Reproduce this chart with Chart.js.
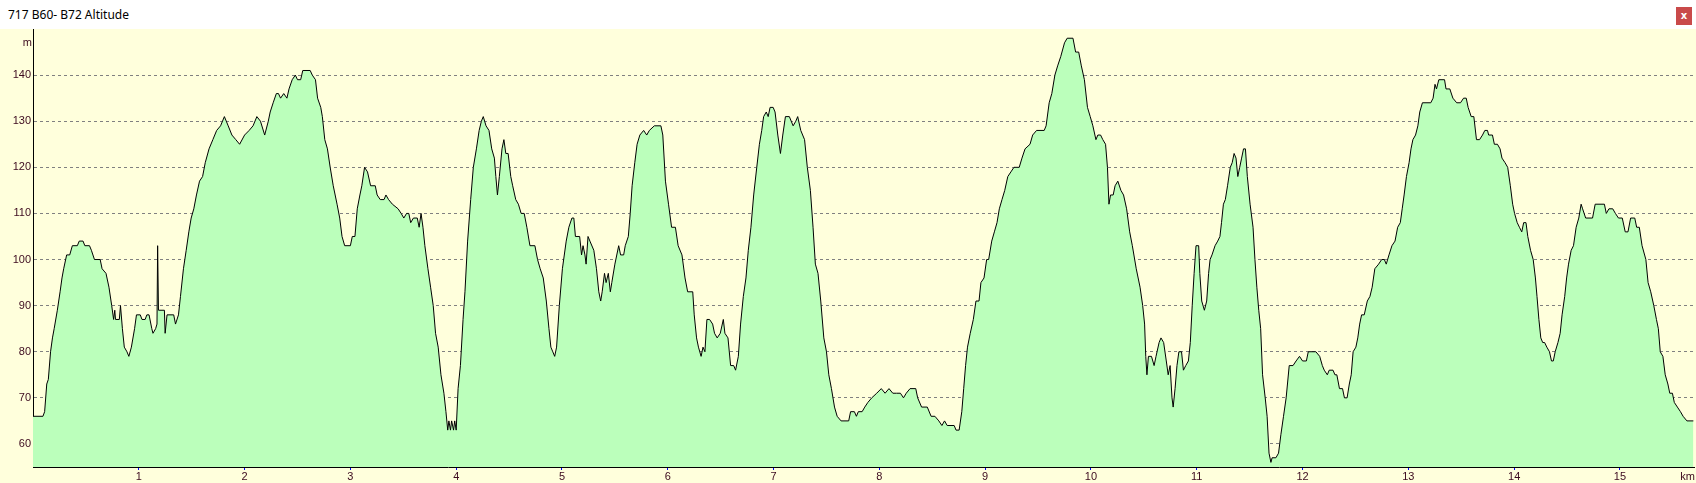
<!DOCTYPE html>
<html>
<head>
<meta charset="utf-8">
<title>717 B60- B72 Altitude</title>
<script src="https://cdn.jsdelivr.net/npm/chart.js@4/dist/chart.umd.min.js"></script>
<style>
  body { margin: 0; background: #ffffdc; overflow: hidden; }
  #bar { height: 29px; background: #fff; position: relative; font: 12px "Noto Sans", "Open Sans", sans-serif; }
  #bar span { position: absolute; left: 8px; top: 6px; color: #000; }
  #close { position: absolute; left: 1676px; top: 7px; width: 16px; height: 18px; background: #c94a4a;
           color: #fff; font: bold 10px "DejaVu Sans", sans-serif; text-align: center; line-height: 17px; }
  #wrap { width: 1696px; height: 454px; position: relative; }
</style>
</head>
<body>
<div id="bar"><span>717 B60- B72 Altitude</span><div id="close">x</div></div>
<div id="wrap"><canvas id="myChart"></canvas></div>
<script>

// Distance along the route (km) and altitude (m)

var distKm = [
  0, 0.094, 0.11, 0.13, 0.145, 0.166, 0.184, 0.2, 0.23, 0.256, 0.274, 0.29, 0.318, 0.347, 0.372, 0.419, 0.437, 0.473, 0.49, 0.534,
  0.552, 0.581, 0.635, 0.653, 0.69, 0.718, 0.744, 0.762, 0.773, 0.78, 0.816, 0.827, 0.845, 0.863, 0.888, 0.906, 0.93, 0.96, 0.978, 1.014,
  1.03, 1.06, 1.076, 1.097, 1.123, 1.134, 1.159, 1.172, 1.178, 1.186, 1.242, 1.249, 1.267, 1.33, 1.347, 1.375, 1.394, 1.422, 1.448, 1.473,
  1.495, 1.52, 1.545, 1.574, 1.603, 1.628, 1.664, 1.7, 1.736, 1.773, 1.809, 1.845, 1.88, 1.917, 1.953, 2.0, 2.043, 2.08, 2.116, 2.15,
  2.19, 2.224, 2.242, 2.27, 2.3, 2.32, 2.34, 2.37, 2.4, 2.42, 2.45, 2.48, 2.5, 2.53, 2.55, 2.62, 2.64, 2.67, 2.69, 2.72,
  2.735, 2.758, 2.783, 2.809, 2.838, 2.874, 2.899, 2.921, 2.946, 3.0, 3.018, 3.043, 3.065, 3.09, 3.108, 3.134, 3.162, 3.191, 3.235, 3.253,
  3.282, 3.318, 3.336, 3.361, 3.397, 3.451, 3.48, 3.505, 3.531, 3.552, 3.57, 3.596, 3.632, 3.65, 3.668, 3.686, 3.704, 3.733, 3.758, 3.783,
  3.805, 3.83, 3.856, 3.884, 3.903, 3.92, 3.931, 3.946, 3.957, 3.975, 3.986, 4.0, 4.018, 4.04, 4.065, 4.083, 4.108, 4.137, 4.162, 4.191,
  4.217, 4.238, 4.256, 4.282, 4.31, 4.336, 4.361, 4.375, 4.39, 4.408, 4.433, 4.451, 4.469, 4.491, 4.516, 4.534, 4.563, 4.588, 4.614, 4.643,
  4.668, 4.697, 4.744, 4.769, 4.794, 4.823, 4.852, 4.877, 4.895, 4.913, 4.931, 4.949, 4.975, 5.004, 5.04, 5.065, 5.094, 5.112, 5.127, 5.167,
  5.185, 5.199, 5.217, 5.228, 5.246, 5.264, 5.301, 5.326, 5.348, 5.366, 5.38, 5.402, 5.417, 5.438, 5.457, 5.471, 5.5, 5.536, 5.554, 5.583,
  5.598, 5.627, 5.645, 5.663, 5.688, 5.71, 5.736, 5.772, 5.801, 5.826, 5.873, 5.935, 5.953, 5.978, 6.007, 6.036, 6.072, 6.098, 6.134, 6.163,
  6.188, 6.236, 6.25, 6.272, 6.29, 6.315, 6.333, 6.351, 6.37, 6.395, 6.424, 6.442, 6.467, 6.496, 6.525, 6.54, 6.569, 6.594, 6.623, 6.641,
  6.667, 6.688, 6.714, 6.739, 6.761, 6.786, 6.812, 6.841, 6.866, 6.888, 6.906, 6.931, 6.949, 6.967, 6.996, 7.014, 7.04, 7.065, 7.087, 7.112,
  7.149, 7.185, 7.21, 7.228, 7.257, 7.293, 7.319, 7.348, 7.373, 7.395, 7.42, 7.446, 7.475, 7.5, 7.522, 7.547, 7.576, 7.601, 7.638, 7.71,
  7.728, 7.764, 7.783, 7.801, 7.837, 7.862, 7.891, 7.928, 7.975, 8.018, 8.054, 8.091, 8.127, 8.163, 8.199, 8.228, 8.254, 8.29, 8.344, 8.362,
  8.399, 8.453, 8.489, 8.525, 8.562, 8.591, 8.616, 8.641, 8.707, 8.725, 8.754, 8.779, 8.797, 8.815, 8.833, 8.859, 8.888, 8.913, 8.942, 8.96,
  8.989, 9.014, 9.033, 9.062, 9.087, 9.112, 9.134, 9.159, 9.185, 9.214, 9.243, 9.272, 9.322, 9.348, 9.377, 9.424, 9.449, 9.486, 9.558, 9.576,
  9.605, 9.63, 9.659, 9.685, 9.714, 9.75, 9.775, 9.83, 9.855, 9.884, 9.909, 9.938, 9.967, 9.993, 10.018, 10.047, 10.065, 10.091, 10.112, 10.138,
  10.156, 10.17, 10.185, 10.21, 10.228, 10.254, 10.283, 10.308, 10.337, 10.366, 10.391, 10.428, 10.464, 10.489, 10.507, 10.518, 10.529, 10.543, 10.572, 10.597,
  10.615, 10.644, 10.662, 10.687, 10.712, 10.73, 10.748, 10.766, 10.777, 10.795, 10.813, 10.831, 10.856, 10.874, 10.896, 10.921, 10.939, 10.957, 10.975, 10.993,
  11.018, 11.029, 11.047, 11.072, 11.094, 11.112, 11.126, 11.144, 11.173, 11.198, 11.219, 11.234, 11.252, 11.27, 11.291, 11.317, 11.335, 11.353, 11.371, 11.388,
  11.406, 11.424, 11.442, 11.46, 11.478, 11.504, 11.532, 11.55, 11.568, 11.586, 11.604, 11.622, 11.647, 11.665, 11.683, 11.701, 11.712, 11.748, 11.773, 11.795,
  11.82, 11.845, 11.874, 11.91, 11.939, 11.971, 12.0, 12.036, 12.054, 12.126, 12.162, 12.187, 12.205, 12.234, 12.252, 12.288, 12.306, 12.324, 12.349, 12.378,
  12.396, 12.421, 12.442, 12.46, 12.478, 12.504, 12.522, 12.54, 12.558, 12.583, 12.612, 12.637, 12.658, 12.683, 12.719, 12.748, 12.773, 12.791, 12.817, 12.845,
  12.874, 12.899, 12.924, 12.942, 12.96, 12.982, 13.007, 13.025, 13.043, 13.068, 13.09, 13.108, 13.133, 13.212, 13.234, 13.252, 13.266, 13.288, 13.342, 13.356,
  13.392, 13.421, 13.457, 13.493, 13.522, 13.547, 13.565, 13.594, 13.619, 13.644, 13.673, 13.701, 13.723, 13.748, 13.759, 13.795, 13.813, 13.842, 13.867, 13.885,
  13.914, 13.939, 13.964, 13.986, 14.004, 14.029, 14.05, 14.072, 14.09, 14.112, 14.129, 14.155, 14.18, 14.201, 14.216, 14.234, 14.252, 14.27, 14.288, 14.309,
  14.334, 14.353, 14.37, 14.388, 14.414, 14.435, 14.453, 14.478, 14.496, 14.514, 14.539, 14.561, 14.586, 14.611, 14.633, 14.647, 14.676, 14.741, 14.766, 14.853,
  14.871, 14.896, 14.932, 14.957, 14.986, 15.022, 15.05, 15.076, 15.101, 15.14, 15.158, 15.183, 15.209, 15.245, 15.266, 15.291, 15.32, 15.345, 15.363, 15.381,
  15.406, 15.428, 15.453, 15.471, 15.496, 15.514, 15.543, 15.572, 15.597, 15.633, 15.694
];

var altM = [
  66, 66, 67, 73, 74, 80, 83, 85, 89, 93, 96, 98, 101, 101, 103, 103, 104, 104, 103, 103,
  102, 100, 100, 98, 97, 94, 90, 87, 89, 87, 87, 90, 85, 81, 80, 79, 81, 85, 88, 88,
  87, 87, 88, 88, 85, 84, 85, 86, 103, 89, 89, 84, 88, 88, 86, 88, 92, 98, 102, 106,
  109, 111, 114, 117, 118, 121, 124, 126, 128, 129, 131, 129, 127, 126, 125, 127, 128, 129, 131, 130,
  127, 130, 132, 134, 136, 136, 135, 136, 135, 137, 139, 140, 139, 139, 141, 141, 140, 139, 135, 133,
  131, 126, 124, 120, 116, 112, 109, 105, 103, 103, 105, 105, 111, 114, 116, 120, 119, 116, 116, 114,
  113, 113, 114, 113, 112, 111, 110, 109, 110, 110, 108, 109, 109, 107, 110, 107, 103, 98, 94, 90,
  84, 81, 75, 71, 67, 63, 65, 63, 65, 63, 65, 63, 72, 77, 87, 93, 104, 113, 120, 124,
  128, 130, 131, 129, 128, 124, 122, 118, 114, 118, 124, 126, 123, 123, 118, 116, 113, 112, 110, 110,
  107, 103, 103, 100, 98, 96, 91, 85, 81, 80, 79, 81, 90, 98, 104, 107, 109, 109, 105, 105,
  101, 103, 101, 99, 105, 104, 102, 98, 93, 91, 93, 97, 95, 97, 93, 95, 99, 103, 101, 101,
  103, 105, 110, 116, 121, 125, 127, 128, 127, 128, 129, 129, 127, 117, 112, 107, 107, 103, 101, 96,
  93, 93, 88, 83, 81, 79, 81, 80, 87, 87, 86, 84, 83, 84, 87, 84, 83, 77, 77, 76,
  79, 86, 92, 96, 102, 107, 114, 120, 125, 128, 131, 132, 131, 133, 133, 132, 127, 123, 127, 131,
  131, 129, 130, 131, 128, 126, 120, 115, 107, 99, 97, 91, 83, 80, 75, 72, 68, 66, 65, 65,
  67, 67, 66, 67, 67, 68, 69, 70, 71, 72, 71, 72, 71, 71, 71, 70, 71, 72, 72, 70,
  68, 68, 66, 66, 65, 64, 65, 64, 64, 63, 63, 67, 72, 77, 81, 84, 87, 91, 91, 95,
  96, 100, 100, 104, 106, 108, 111, 113, 115, 118, 119, 120, 120, 122, 124, 125, 127, 128, 128, 129,
  134, 136, 140, 142, 144, 147, 148, 148, 145, 145, 142, 139, 133, 131, 129, 126, 127, 127, 126, 125,
  120, 112, 114, 114, 116, 117, 115, 114, 111, 106, 103, 98, 94, 90, 86, 79, 75, 79, 79, 77,
  79, 82, 83, 82, 78, 75, 77, 70, 68, 72, 77, 80, 80, 76, 77, 78, 82, 90, 97, 103,
  103, 97, 91, 89, 91, 97, 100, 101, 103, 104, 105, 108, 112, 113, 116, 120, 121, 123, 122, 118,
  120, 122, 124, 124, 118, 112, 107, 100, 94, 89, 85, 75, 70, 66, 58, 56, 57, 57, 58, 62,
  66, 70, 77, 77, 78, 79, 78, 78, 80, 80, 79, 77, 76, 75, 76, 76, 75, 75, 72, 72,
  70, 70, 73, 75, 80, 81, 83, 86, 88, 88, 91, 92, 94, 98, 99, 100, 100, 99, 101, 103,
  104, 107, 108, 111, 114, 118, 121, 124, 126, 127, 129, 132, 134, 134, 135, 138, 137, 139, 139, 137,
  137, 135, 134, 134, 135, 135, 133, 131, 131, 126, 126, 127, 128, 128, 127, 127, 125, 125, 124, 122,
  121, 120, 116, 112, 110, 108, 107, 106, 108, 108, 105, 102, 100, 96, 92, 87, 83, 82, 82, 81,
  80, 78, 78, 80, 82, 84, 88, 92, 96, 99, 102, 103, 107, 109, 112, 111, 109, 109, 112, 112,
  110, 111, 111, 110, 109, 109, 106, 106, 109, 109, 107, 107, 103, 100, 95, 93, 90, 87, 85, 80,
  79, 75, 73, 71, 71, 69, 68, 67, 66, 65, 65
];

// Axis ticks

var xTicks = [1, 2, 3, 4, 5, 6, 7, 8, 9, 10, 11, 12, 13, 14, 15];
var yTicks = [60, 70, 80, 90, 100, 110, 120, 130, 140];

var points = distKm.map(function (d, i) { return { x: d, y: altM[i] }; });

var labelColor = '#3c0a1e';
var labelFont = { family: 'Liberation Sans', size: 11 };

// writes the unit names at the ends of the axes
var unitLabels = {
  id: 'unitLabels',
  afterDraw: function (chart) {
    var c = chart.ctx;
    var xs = chart.scales.x, ys = chart.scales.y;
    c.save();
    c.font = '11px "Liberation Sans"';
    c.fillStyle = labelColor;
    c.textAlign = 'right';
    c.textBaseline = 'middle';
    c.fillText('m', ys.right - 1, ys.getPixelForValue(147));
    c.fillText('km', xs.right + 1, xs.top + 10);
    c.restore();
  }
};

var ctx = document.getElementById("myChart");
var myChart = new Chart(ctx, {
  type: 'line',
  data: {
    datasets: [
      {
        data: points,
        borderColor: '#000000',
        borderWidth: 1,
        backgroundColor: '#bbffbb',
        fill: 'start',
        pointRadius: 0,
        tension: 0
      }
    ]
  },
  options: {
    responsive: true,
    maintainAspectRatio: false,
    animation: false,
    layout: { padding: { top: 0, right: 2, left: 0, bottom: 0 } },
    plugins: { legend: { display: false }, tooltip: { enabled: false } },
    scales: {
      x: {
        type: 'linear',
        min: 0,
        max: 15.7,
        afterBuildTicks: function (axis) {
          axis.ticks = xTicks.map(function (v) { return { value: v }; });
        },
        afterFit: function (axis) {
          axis.height = 16;
          axis.paddingLeft = 0;
          axis.paddingRight = 0;
        },
        grid: { drawOnChartArea: false, drawTicks: true, tickLength: 3, color: '#0000ff' },
        border: { display: true, color: '#000000', width: 1 },
        ticks: { color: labelColor, font: labelFont, padding: 0, maxRotation: 0, autoSkip: false }
      },
      y: {
        min: 55,
        max: 150,
        afterBuildTicks: function (axis) {
          axis.ticks = yTicks.map(function (v) { return { value: v }; });
        },
        afterFit: function (axis) {
          axis.width = 33;
          axis.paddingTop = 0;
          axis.paddingBottom = 0;
        },
        grid: { drawTicks: false, color: '#808080', lineWidth: 1 },
        border: { display: true, color: '#000000', width: 1, dash: [3, 3] },
        ticks: { color: labelColor, font: labelFont, padding: 2 }
      }
    }
  },
  plugins: [unitLabels]
});
</script>
</body>
</html>
